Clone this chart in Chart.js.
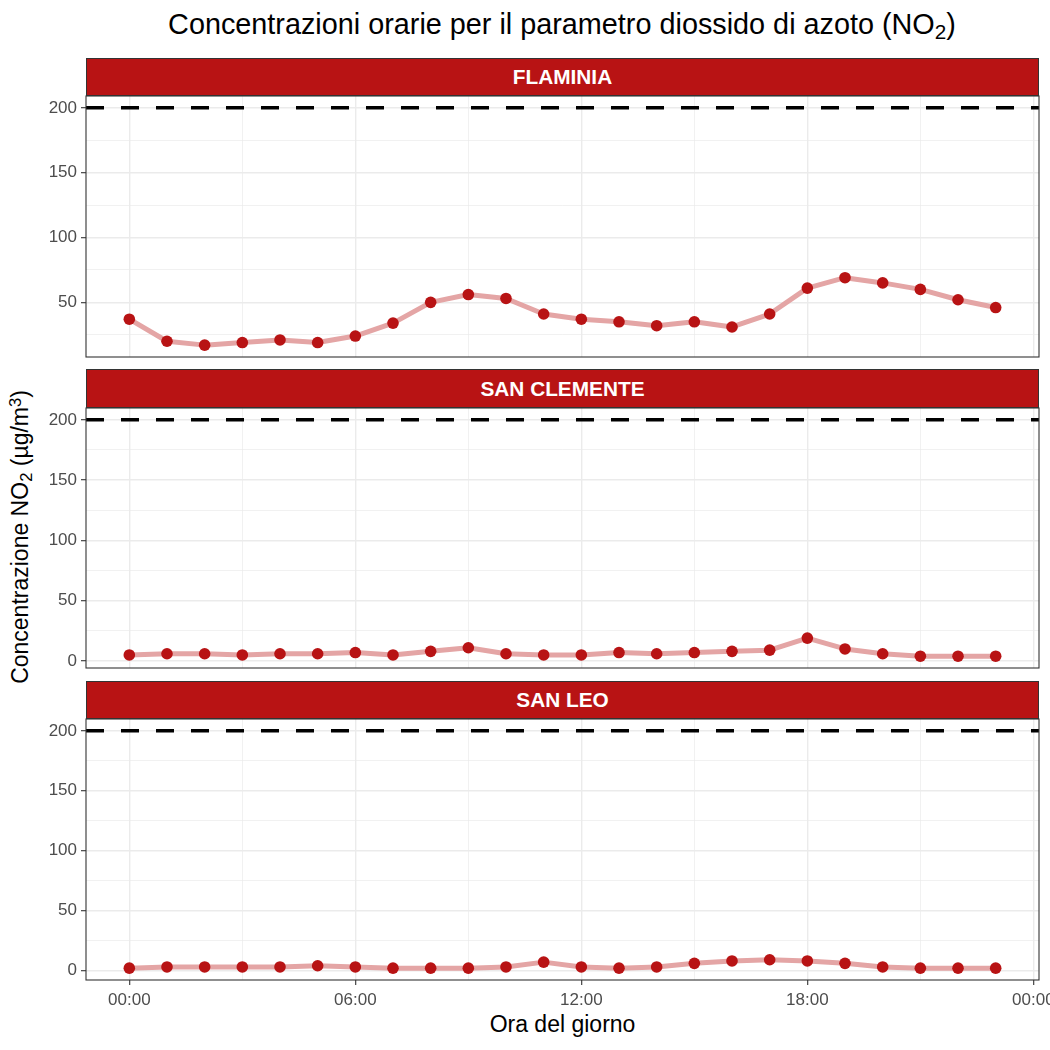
<!DOCTYPE html>
<html>
<head>
<meta charset="utf-8">
<script src="https://cdn.jsdelivr.net/npm/chart.js@4"></script>
<style>
  html, body { margin:0; padding:0; background:#fff; }
  body { width:1050px; height:1050px; position:relative; overflow:hidden; font-family:"Liberation Sans", Arial, sans-serif; }
  .abs { position:absolute; }
  .title { left:0; width:1124px; top:6px; text-align:center; font-size:28.8px; color:#000; line-height:36px; }
  .strip { background:#B81314; border:1px solid #333; box-sizing:border-box; color:#fff; font-weight:bold; font-size:20.8px; text-align:center; }
  .xtitle { left:86px; width:953px; top:1010px; text-align:center; font-size:23px; line-height:28px; color:#000; }
  .ytitle { left:20px; top:537px; transform:translate(-50%,-50%) rotate(-90deg); white-space:nowrap; font-size:23px; line-height:28px; color:#000; }
  sub { font-size:0.72em; vertical-align:-0.25em; line-height:0; }
  sup { font-size:0.72em; vertical-align:0.45em; line-height:0; }
</style>
</head>
<body>
<div class="abs title">Concentrazioni orarie per il parametro diossido di azoto (NO<sub>2</sub>)</div>
<div class="abs ytitle">Concentrazione NO<sub>2</sub> (µg/m<sup>3</sup>)</div>
<div class="abs xtitle">Ora del giorno</div>
<script>
// ---- data ----
const hours = [0,1,2,3,4,5,6,7,8,9,10,11,12,13,14,15,16,17,18,19,20,21,22,23];
const stations = ["FLAMINIA", "SAN CLEMENTE", "SAN LEO"];
const flaminia    = [37,20,17,19,21,19,24,34,50,56,53,41,37,35,32,35,31,41,61,69,65,60,52,46];
const sanClemente = [5,6,6,5,6,6,7,5,8,11,6,5,5,7,6,7,8,9,19,10,6,4,4,4];
const sanLeo      = [2,3,3,3,3,4,3,2,2,2,3,7,3,2,3,6,8,9,8,6,3,2,2,2];
const limitValue = 200;
const xTickHours = [0,3,6,9,12,15,18,21,24];
const yTickValues = [0,25,50,75,100,125,150,175,200];

const seriesList = [flaminia, sanClemente, sanLeo];

// ---- layout ----
const PLOT_LEFT = 86, PLOT_RIGHT = 1039;
const panels = [
  { stripTop:58,  plotTop:96,  plotBottom:357 },
  { stripTop:369, plotTop:408, plotBottom:668 },
  { stripTop:681, plotTop:719, plotBottom:980 }
];
const PAD = 6;
const XAXIS_H = 40;

const xMin = hours[0] - 0.05*(hours[hours.length-1]-hours[0]);
const xMax = hours[hours.length-1] + 0.05*(hours[hours.length-1]-hours[0]);

const POINT = '#B81314';
const LINE = '#E4A5A5';
const GRID = '#EBEBEB';

function hh(v){ const h = ((v%24)+24)%24; return (h<10?'0':'')+h+':00'; }

const borderPlugin = {
  id:'panelBorder',
  afterDraw(chart){
    const a = chart.chartArea, ctx = chart.ctx;
    ctx.save();
    ctx.strokeStyle = '#333333';
    ctx.lineWidth = 1.1;
    ctx.strokeRect(a.left, a.top, a.right-a.left, a.bottom-a.top);
    ctx.restore();
  }
};

panels.forEach((p, i) => {
  const isLast = i === panels.length-1;
  const strip = document.createElement('div');
  strip.className = 'abs strip';
  strip.style.left = PLOT_LEFT+'px';
  strip.style.width = (PLOT_RIGHT-PLOT_LEFT)+'px';
  strip.style.top = p.stripTop+'px';
  strip.style.height = (p.plotTop-p.stripTop)+'px';
  strip.style.lineHeight = (p.plotTop-p.stripTop-2)+'px';
  strip.textContent = stations[i];
  document.body.appendChild(strip);

  const wrap = document.createElement('div');
  wrap.className = 'abs';
  wrap.style.left = '0px';
  wrap.style.width = '1050px';
  wrap.style.top = (p.plotTop - PAD)+'px';
  const h = PAD + (p.plotBottom-p.plotTop) + (isLast ? XAXIS_H : PAD);
  wrap.style.height = h+'px';
  const cv = document.createElement('canvas');
  wrap.appendChild(cv);
  document.body.appendChild(wrap);

  const vals = seriesList[i];
  const lo = Math.min(Math.min(...vals), limitValue);
  const hi = Math.max(Math.max(...vals), limitValue);
  const yMin = lo - 0.05*(hi-lo), yMax = hi + 0.05*(hi-lo);

  new Chart(cv, {
    type:'line',
    data:{
      datasets:[
        {
          data: hours.map((hr, k) => ({x:hr, y:vals[k]})),
          borderColor: LINE, borderWidth: 5, borderCapStyle:'round', borderJoinStyle:'round',
          pointBackgroundColor: POINT, pointBorderColor: POINT, pointRadius: 5.8, pointBorderWidth: 0,
          tension: 0, order: 0
        },
        {
          data: [{x:xMin, y:limitValue},{x:xMax, y:limitValue}],
          borderColor:'#000', borderWidth:3.5, borderDash:[18,17], pointRadius:0, order: 1
        }
      ]
    },
    options:{
      responsive:true, maintainAspectRatio:false, animation:false,
      layout:{ padding:{ left:0, right:1050-PLOT_RIGHT, top:PAD, bottom: isLast ? 0 : PAD } },
      plugins:{ legend:{display:false}, tooltip:{enabled:false} },
      scales:{
        x:{
          type:'linear', min:xMin, max:xMax,
          afterBuildTicks(s){ s.ticks = xTickHours.map(v=>({value:v})); },
          afterFit(s){ s.height = isLast ? XAXIS_H : 0; s.paddingLeft = 0; s.paddingRight = 0; },
          border:{display:false},
          grid:{
            color: GRID,
            lineWidth: c => (c.tick && c.tick.value % 6 === 0) ? 1.4 : 0.7,
            drawTicks: isLast, tickLength:5,
            tickColor: c => (c.tick && c.tick.value % 6 === 0) ? '#333333' : 'rgba(0,0,0,0)',
            tickWidth: 1.1
          },
          ticks:{
            display: isLast, autoSkip:false, maxRotation:0, padding:5,
            color:'#4D4D4D', font:{family:'"Liberation Sans", Arial, sans-serif', size:17},
            callback: v => (v % 6 === 0) ? hh(v) : ''
          }
        },
        y:{
          type:'linear', min:yMin, max:yMax,
          afterBuildTicks(s){ s.ticks = yTickValues.filter(v=>v>=yMin && v<=yMax).map(v=>({value:v})); },
          afterFit(s){ s.width = PLOT_LEFT; s.paddingTop = 0; s.paddingBottom = 0; },
          border:{display:false},
          grid:{
            color: GRID,
            lineWidth: c => (c.tick && c.tick.value % 50 === 0) ? 1.4 : 0.7,
            drawTicks:true, tickLength:5,
            tickColor: c => (c.tick && c.tick.value % 50 === 0) ? '#333333' : 'rgba(0,0,0,0)',
            tickWidth: 1.1
          },
          ticks:{
            autoSkip:false, padding:4,
            color:'#4D4D4D', font:{family:'"Liberation Sans", Arial, sans-serif', size:17},
            callback: v => (v % 50 === 0) ? String(v) : ''
          }
        }
      }
    },
    plugins:[borderPlugin]
  });
});
</script>
</body>
</html>
